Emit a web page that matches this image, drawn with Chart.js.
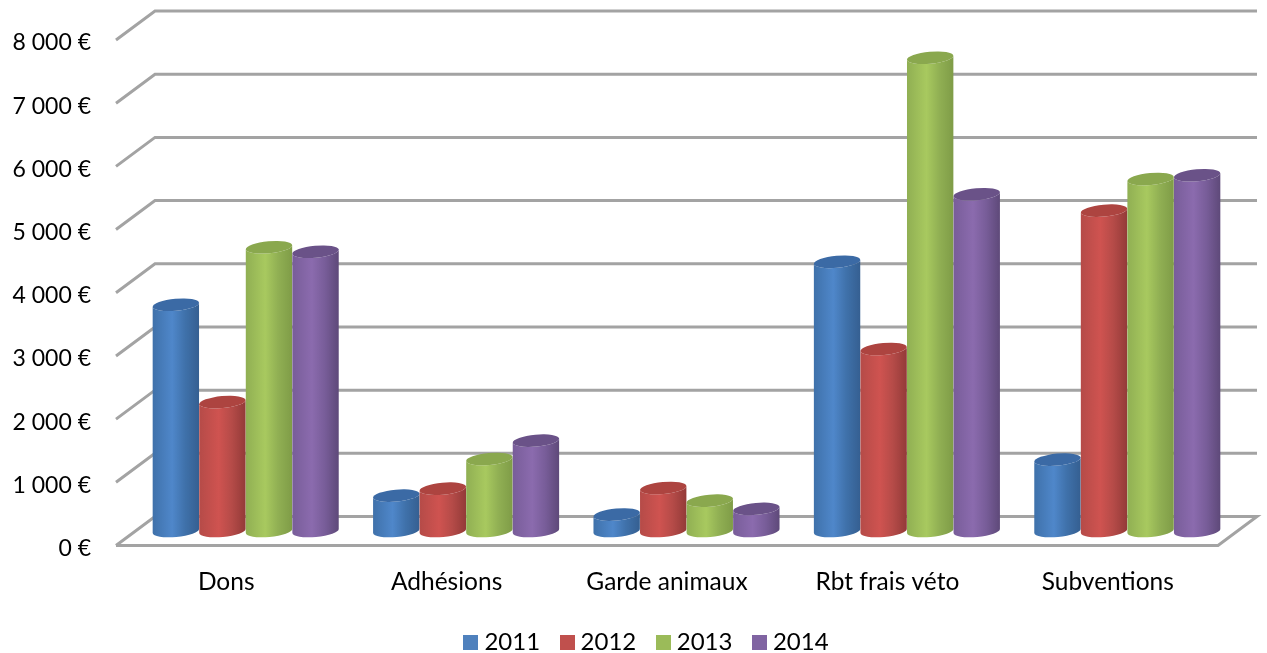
<!DOCTYPE html>
<html>
<head>
    <title>Recettes par année</title>
    <script src="https://cdn.jsdelivr.net/npm/chart.js"></script>
    <style>
        body { margin: 0; background: #fff; }
    </style>
</head>
<body>
    <canvas id="Chart" width="1267" height="653"></canvas>
    <script>
        const categories = ['Dons', 'Adhésions', 'Garde animaux', 'Rbt frais véto', 'Subventions'];
        const years = ['2011', '2012', '2013', '2014'];
        const values2011 = [3580, 560, 260, 4260, 1130];
        const values2012 = [2040, 670, 680, 2880, 5070];
        const values2013 = [4490, 1140, 480, 7490, 5570];
        const values2014 = [4420, 1430, 350, 5330, 5630];
        const allValues = [values2011, values2012, values2013, values2014];

        // legend colour, then shades for the cylinder: left, light, right, lid
        const palette = [
            ['#4f81bd', '#3f71aa', '#4f87ca', '#355f91', '#3b6aa5'],
            ['#c0504d', '#b54b48', '#cf5350', '#933a38', '#ad4440'],
            ['#9bbb59', '#90af53', '#a8c95f', '#7f9c47', '#8aa84e'],
            ['#8064a2', '#785d99', '#8b6bae', '#5e4979', '#6a5288']
        ];

        // depth of the 3D box, the cylinders stand halfway in
        const depthX = 39;
        const depthY = 29;

        const box3d = {
            id: 'box3d',
            afterLayout(chart) {
                // legend sits right of the middle in the original
                chart.legend.left += 40;
                chart.legend.right += 40;
            },
            beforeDatasetsDraw(chart) {
                const ctx = chart.ctx;
                const area = chart.chartArea;
                const y = chart.scales.y;
                ctx.save();
                ctx.filter = 'blur(0.5px)';
                ctx.strokeStyle = '#a3a3a3';
                ctx.lineWidth = 3;
                y.ticks.forEach((tick) => {
                    const py = y.getPixelForValue(tick.value);
                    ctx.beginPath();
                    ctx.moveTo(area.left, py);
                    ctx.lineTo(area.left + depthX, py - depthY);
                    ctx.lineTo(area.right + depthX, py - depthY);
                    if (tick.value === 0) {
                        ctx.lineTo(area.right, py);
                        ctx.lineTo(area.left, py);
                    }
                    ctx.stroke();
                });
                ctx.restore();

                years.forEach((year, i) => {
                    chart.getDatasetMeta(i).data.forEach((bar) => {
                        drawCylinder(ctx, bar, palette[i]);
                    });
                });
            },
            // the flat bars are replaced by the cylinders above
            beforeDatasetDraw() {
                return false;
            }
        };

        function drawCylinder(ctx, bar, shades) {
            const cx = bar.x + depthX / 2;
            const rx = bar.width / 2;
            const ry = 6;
            const tilt = -0.09;
            const top = bar.y - depthY / 2;
            const base = bar.base - depthY / 2;

            const grad = ctx.createLinearGradient(cx - rx, 0, cx + rx, 0);
            grad.addColorStop(0, shades[1]);
            grad.addColorStop(0.42, shades[2]);
            grad.addColorStop(0.7, shades[1]);
            grad.addColorStop(1, shades[3]);

            ctx.save();
            ctx.filter = 'blur(0.5px)';
            ctx.fillStyle = grad;
            ctx.beginPath();
            ctx.ellipse(cx, base, rx, ry, tilt, 0, Math.PI);
            ctx.ellipse(cx, top, rx, ry, tilt, Math.PI, 0, true);
            ctx.closePath();
            ctx.fill();

            ctx.fillStyle = shades[4];
            ctx.beginPath();
            ctx.ellipse(cx, top, rx, ry, tilt, 0, Math.PI * 2);
            ctx.fill();
            ctx.restore();
        }

        // 15px square for the legend, so the text can sit closer than boxWidth allows
        function swatch(color) {
            const c = document.createElement('canvas');
            c.width = 15;
            c.height = 15;
            const g = c.getContext('2d');
            g.fillStyle = color;
            g.fillRect(0, 0, 15, 15);
            return c;
        }

        new Chart(document.getElementById('Chart').getContext('2d'), {
            type: 'bar',
            data: {
                labels: categories,
                datasets: years.map((year, i) => ({
                    label: year,
                    data: allValues[i],
                    backgroundColor: palette[i][0],
                    borderWidth: 0,
                    barPercentage: 1,
                    categoryPercentage: 0.845
                }))
            },
            options: {
                responsive: false,
                animation: false,
                layout: { padding: { left: 0, right: 49, top: 40, bottom: -11.5 } },
                scales: {
                    x: {
                        grid: { display: false },
                        border: { display: false },
                        ticks: { color: '#000', padding: 14, font: { family: 'Lato', size: 24.5 } },
                        afterFit(scale) { scale.height = 59.5; }
                    },
                    y: {
                        min: 0,
                        max: 8000,
                        grid: { display: false },
                        border: { display: false },
                        ticks: {
                            stepSize: 1000,
                            color: '#000',
                            padding: 17,
                            labelOffset: 3,
                            font: { family: 'Lato', size: 23 },
                            callback: (v) => String(v).replace(/\B(?=(\d{3})+$)/g, ' ') + ' €'
                        },
                        afterFit(scale) { scale.width = 116; }
                    }
                },
                plugins: {
                    tooltip: { enabled: false },
                    legend: {
                        position: 'bottom',
                        labels: {
                            color: '#000',
                            usePointStyle: true,
                            pointStyleWidth: 3,
                            padding: 25.5,
                            font: { family: 'Lato', size: 24 },
                            generateLabels(chart) {
                                return Chart.defaults.plugins.legend.labels.generateLabels(chart).map((item, i) => {
                                    item.pointStyle = swatch(palette[i][0]);
                                    return item;
                                });
                            }
                        }
                    }
                }
            },
            plugins: [box3d]
        });
    </script>
</body>
</html>
